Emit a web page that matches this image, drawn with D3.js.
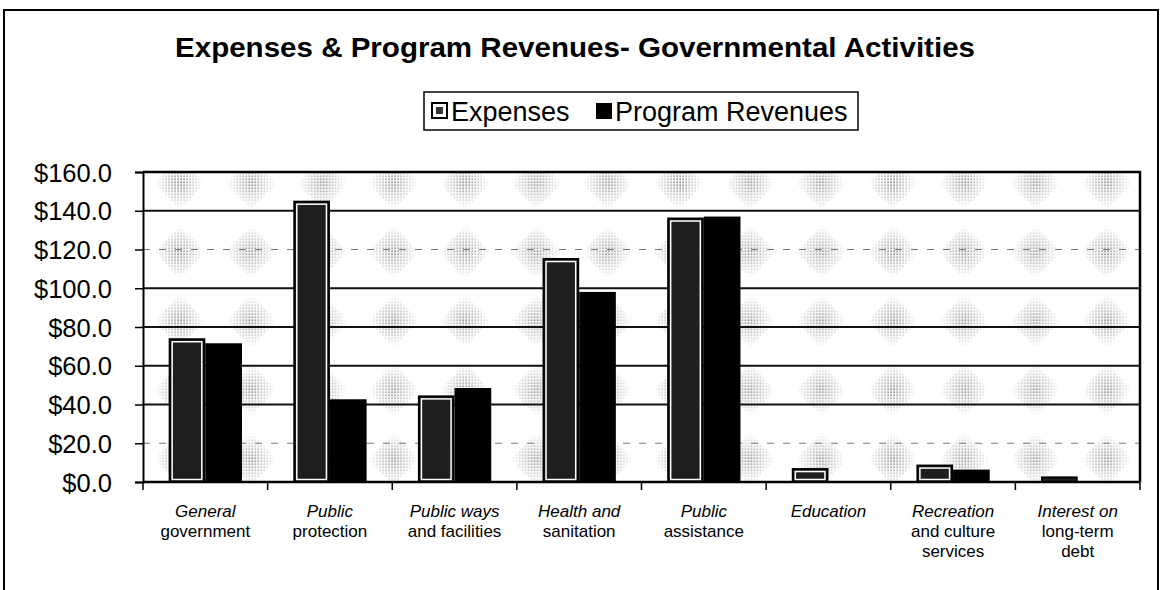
<!DOCTYPE html>
<html>
<head>
<meta charset="utf-8">
<script src="https://cdn.jsdelivr.net/npm/d3@7"></script>
<style>
  body { margin: 0; background: #fff; }
  text { font-family: "Liberation Sans", Arial, sans-serif; fill: #000; }
</style>
</head>
<body>
<script>
// ---- data (millions) ----
let categories = ["General\ngovernment", "Public\nprotection", "Public ways\nand facilities",
                  "Health and\nsanitation", "Public\nassistance", "Education",
                  "Recreation\nand culture\nservices", "Interest on\nlong-term\ndebt"];
let expenses   = [74.2, 145.2, 44.7, 115.6, 136.5, 7.2, 9.0, 2.9];
let revenues   = [71.6, 42.7, 48.5, 98.1, 137.0, 0.4, 6.4, 0];
let seriesNames = ["Expenses", "Program Revenues"];
let yTicks     = [0, 20, 40, 60, 80, 100, 120, 140, 160];
// gridlines that came out faint in the scan
let faintLines = [20, 120];

let W = 1162, H = 590;
let pLeft = 143, pRight = 1140, pTop = 172, pBottom = 482;

let svg = d3.select("body").append("svg")
    .attr("width", W)
    .attr("height", H);

// background texture for the plot area (stippled blotches of the scan)
let defs = svg.append("defs");
let dots = defs.append("pattern").attr("id", "dots")
    .attr("patternUnits", "userSpaceOnUse")
    .attr("width", 3).attr("height", 3);
dots.append("rect").attr("width", 1.5).attr("height", 1.5).attr("fill", "#555");

let grad = defs.append("radialGradient").attr("id", "blob");
grad.append("stop").attr("offset", "0%").attr("stop-color", "#fff").attr("stop-opacity", 0.95);
grad.append("stop").attr("offset", "55%").attr("stop-color", "#fff").attr("stop-opacity", 0.4);
grad.append("stop").attr("offset", "100%").attr("stop-color", "#fff").attr("stop-opacity", 0);
defs.append("mask").attr("id", "blobMask")
    .attr("maskUnits", "userSpaceOnUse")
    .attr("x", 0).attr("y", 0).attr("width", 71.3).attr("height", 69)
    .append("polygon")
    .attr("points", "35.6,8 61,34.5 35.6,61 10,34.5")
    .attr("fill", "url(#blob)");

let pat = defs.append("pattern").attr("id", "bg")
    .attr("patternUnits", "userSpaceOnUse")
    .attr("x", 144.3).attr("y", 148.5)
    .attr("width", 71.3).attr("height", 69);
pat.append("rect").attr("width", 71.3).attr("height", 69).attr("fill", "#fff");
pat.append("rect").attr("width", 71.3).attr("height", 69)
    .attr("fill", "url(#dots)").attr("mask", "url(#blobMask)");

// outer frame
svg.append("path")
    .attr("d", `M4,${H} L4,10 L1158,10 L1158,${H}`)
    .attr("fill", "none").attr("stroke", "#000").attr("stroke-width", 2);

// title
svg.append("text")
    .attr("x", 175).attr("y", 57)
    .attr("font-size", 28).attr("font-weight", "bold")
    .attr("textLength", 800).attr("lengthAdjust", "spacingAndGlyphs")
    .text("Expenses & Program Revenues- Governmental Activities");

// scales
let x = d3.scaleBand().domain(categories).range([pLeft, pRight]);
let xs = d3.scaleBand().domain(seriesNames).range([0, x.bandwidth()]).paddingOuter(0.7);
let y = d3.scaleLinear().domain([0, 160]).range([pBottom, pTop]);

// plot area
svg.append("rect")
    .attr("x", pLeft).attr("y", pTop)
    .attr("width", pRight - pLeft).attr("height", pBottom - pTop)
    .attr("fill", "url(#bg)");

// gridlines
svg.append("g").selectAll("line")
    .data(yTicks.filter(d => d > 0 && d < 160))
    .enter().append("line")
    .attr("x1", pLeft).attr("x2", pRight)
    .attr("y1", d => y(d)).attr("y2", d => y(d))
    .attr("stroke", d => faintLines.includes(d) ? "#777" : "#111")
    .attr("stroke-width", d => faintLines.includes(d) ? 1 : 1.8)
    .attr("stroke-dasharray", d => faintLines.includes(d) ? "7,9" : null);

// plot border top + right
svg.append("path")
    .attr("d", `M${pLeft},${pTop} L${pRight},${pTop} L${pRight},${pBottom}`)
    .attr("fill", "none").attr("stroke", "#000").attr("stroke-width", 2.5);

// bars
let rows = categories.map((c, i) => ({c: c, exp: expenses[i], rev: revenues[i]}));
let g = svg.append("g");

// revenues: solid black
g.selectAll("rect.rev")
    .data(rows)
    .enter().append("rect")
    .attr("class", "rev")
    .attr("x", d => x(d.c) + xs("Program Revenues"))
    .attr("y", d => y(d.rev))
    .attr("width", xs.bandwidth())
    .attr("height", d => pBottom - y(d.rev))
    .attr("fill", "#000");

// expenses: black outline, white inner line, dark fill
g.selectAll("rect.exp")
    .data(rows)
    .enter().append("rect")
    .attr("class", "exp")
    .attr("x", d => x(d.c) + xs("Expenses") + 1)
    .attr("y", d => y(d.exp) + 1)
    .attr("width", xs.bandwidth() - 2)
    .attr("height", d => Math.max(0, pBottom - y(d.exp) - 1))
    .attr("fill", "#1e1e1e")
    .attr("stroke", "#000").attr("stroke-width", 2);

g.selectAll("rect.expin")
    .data(rows)
    .enter().append("rect")
    .attr("class", "expin")
    .attr("x", d => x(d.c) + xs("Expenses") + 3.5)
    .attr("y", d => y(d.exp) + 3.5)
    .attr("width", xs.bandwidth() - 7)
    .attr("height", d => Math.max(0, pBottom - y(d.exp) - 6))
    .attr("fill", "none")
    .attr("stroke", "#fff").attr("stroke-width", 1.5);

// y axis
let yAxis = d3.axisLeft(y)
    .tickValues(yTicks)
    .tickFormat(d => "$" + d.toFixed(1))
    .tickSize(8)
    .tickPadding(23);
let ya = svg.append("g")
    .attr("transform", `translate(${pLeft},0)`)
    .call(yAxis);
ya.select(".domain").attr("stroke-width", 2);
ya.selectAll(".tick line").attr("stroke-width", 1.5);
ya.selectAll("text")
    .attr("font-size", 25.5)
    .attr("font-family", "Liberation Sans, Arial, sans-serif")
    .attr("dy", "0.36em");

// x axis line and category ticks
let xa = svg.append("g");
xa.append("line")
    .attr("x1", pLeft).attr("x2", pRight)
    .attr("y1", pBottom).attr("y2", pBottom)
    .attr("stroke", "#000").attr("stroke-width", 2.5);
xa.selectAll("line.tk")
    .data(categories.map(c => x(c)).concat([pRight]))
    .enter().append("line")
    .attr("class", "tk")
    .attr("x1", d => d).attr("x2", d => d)
    .attr("y1", pBottom).attr("y2", pBottom + 8)
    .attr("stroke", "#000").attr("stroke-width", 1.5);

// category labels: first line italic
let lab = xa.selectAll("text.cat")
    .data(categories)
    .enter().append("text")
    .attr("class", "cat")
    .attr("text-anchor", "middle")
    .attr("font-size", 17);
lab.each(function(c) {
    let lines = c.split("\n");
    d3.select(this).selectAll("tspan")
        .data(lines)
        .enter().append("tspan")
        .attr("x", x(c) + x.bandwidth() / 2)
        .attr("y", (d, i) => 517 + i * 20)
        .attr("font-style", (d, i) => i === 0 ? "italic" : "normal")
        .text(d => d);
});

// legend
let lg = svg.append("g");
lg.append("rect")
    .attr("x", 424).attr("y", 92)
    .attr("width", 434).attr("height", 38)
    .attr("fill", "#fff")
    .attr("stroke", "#000").attr("stroke-width", 1.5);
// expenses swatch
lg.append("rect")
    .attr("x", 432).attr("y", 103).attr("width", 15).attr("height", 15)
    .attr("fill", "#fff").attr("stroke", "#000").attr("stroke-width", 2);
lg.append("rect")
    .attr("x", 436).attr("y", 107).attr("width", 7).attr("height", 7)
    .attr("fill", "#333");
lg.append("text")
    .attr("x", 451).attr("y", 121)
    .attr("font-size", 27)
    .text(seriesNames[0]);
// revenues swatch
lg.append("rect")
    .attr("x", 596).attr("y", 103).attr("width", 16).attr("height", 16)
    .attr("fill", "#000");
lg.append("text")
    .attr("x", 615).attr("y", 121)
    .attr("font-size", 27)
    .text(seriesNames[1]);
</script>
</body>
</html>
